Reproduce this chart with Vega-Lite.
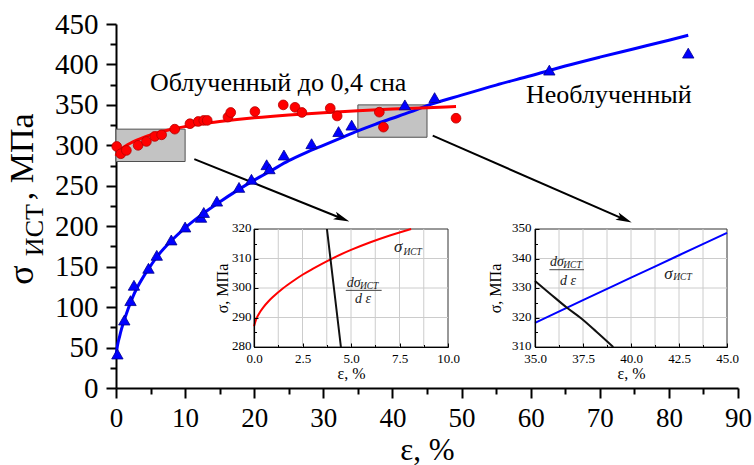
{
"$schema":"https://vega.github.io/schema/vega-lite/v6.json",
"width":622,"height":364,
"autosize":{"type":"none"},
"padding":{"left":116,"top":24,"right":16,"bottom":77},
"background":"white",
"config":{
 "view":{"stroke":null},
 "font":"Times New Roman",
 "axis":{"labelFont":"Times New Roman","titleFont":"Times New Roman","titleFontWeight":"normal","labelColor":"black","titleColor":"black","domainColor":"black","tickColor":"black","grid":false,"labelFlush":false,"labelOverlap":false,"labelBound":false},
 "text":{"font":"Times New Roman","color":"black"}
},
"datasets":{
 "blueCurve":[{"x":0,"y":40},{"x":0.25,"y":54},{"x":0.5,"y":63},{"x":0.8,"y":73},{"x":1.2,"y":84},{"x":1.8,"y":99},{"x":2.5,"y":114},{"x":3,"y":123},{"x":4,"y":138},{"x":5,"y":151},{"x":6,"y":163},{"x":7,"y":173},{"x":8,"y":182},{"x":10,"y":198},{"x":12.5,"y":215},{"x":15,"y":230},{"x":17.5,"y":244},{"x":20,"y":257},{"x":22.5,"y":269},{"x":25,"y":281},{"x":27.5,"y":291},{"x":30,"y":300},{"x":32.5,"y":309},{"x":35,"y":318},{"x":37.5,"y":326},{"x":40,"y":333.5},{"x":42.5,"y":341},{"x":45,"y":349},{"x":50,"y":362},{"x":55,"y":374.5},{"x":60,"y":386},{"x":65,"y":398},{"x":70,"y":409},{"x":75,"y":419.5},{"x":80,"y":430},{"x":82.8,"y":436}],
 "redCurve":[{"x":0,"y":287},{"x":0.25,"y":291.2},{"x":0.5,"y":293.6},{"x":1,"y":297.1},{"x":1.5,"y":299.9},{"x":2,"y":302.3},{"x":3,"y":306.4},{"x":4,"y":309.9},{"x":5,"y":312.9},{"x":6,"y":315.5},{"x":7,"y":317.8},{"x":8.2,"y":320.2},{"x":10,"y":323.2},{"x":12.5,"y":326.8},{"x":15,"y":329.6},{"x":17.5,"y":332},{"x":20,"y":334.1},{"x":25,"y":337.6},{"x":30,"y":340.4},{"x":35,"y":342.8},{"x":40,"y":344.8},{"x":45,"y":346.6},{"x":49.2,"y":348}],
 "bluePts":[{"x":0.2,"y":42},{"x":1.2,"y":84},{"x":2.1,"y":108},{"x":2.6,"y":127},{"x":4.7,"y":148},{"x":5.9,"y":164},{"x":8.0,"y":183},{"x":10.0,"y":199},{"x":12.3,"y":211},{"x":12.7,"y":217},{"x":14.6,"y":231},{"x":17.8,"y":248},{"x":19.6,"y":258},{"x":21.8,"y":276},{"x":22.2,"y":271},{"x":24.3,"y":288},{"x":28.3,"y":302},{"x":32.2,"y":317},{"x":34.1,"y":325},{"x":41.8,"y":350},{"x":46.1,"y":359},{"x":62.7,"y":393},{"x":82.8,"y":414}],
 "redPts":[{"x":0.1,"y":298.6},{"x":0.7,"y":289.6},{"x":1.5,"y":293.7},{"x":3.2,"y":300},{"x":4.4,"y":304.8},{"x":5.6,"y":311},{"x":6.6,"y":313},{"x":8.5,"y":320},{"x":10.7,"y":326.7},{"x":11.9,"y":329.5},{"x":12.7,"y":330.8},{"x":13.2,"y":330.8},{"x":16.2,"y":334.9},{"x":16.6,"y":340.6},{"x":20.1,"y":341.8},{"x":24.2,"y":350},{"x":25.9,"y":347},{"x":26.9,"y":340.6},{"x":31.0,"y":345.8},{"x":32.0,"y":336.3},{"x":38.1,"y":341},{"x":38.7,"y":322.5},{"x":49.2,"y":333.5}],
 "boxes":[{"x":0,"x2":10,"y":280,"y2":320},{"x":35,"x2":45,"y":310,"y2":350}],
 "arrows":[{"x":11.33,"y":283.0,"x2":32.69,"y2":209.5},{"x":45.83,"y":311.9,"x2":73.56,"y2":208.5}],
 "labels":[{"x":4.92,"y":367.5,"t":"Облученный до 0,4 сна"},{"x":59.33,"y":352.7,"t":"Необлученный"}],
 "i1red":[{"x":0,"y":287},{"x":0.1,"y":289.2},{"x":0.25,"y":291.2},{"x":0.5,"y":293.6},{"x":0.75,"y":295.5},{"x":1,"y":297.1},{"x":1.5,"y":299.9},{"x":2,"y":302.3},{"x":2.5,"y":304.5},{"x":3,"y":306.4},{"x":3.5,"y":308.2},{"x":4,"y":309.9},{"x":5,"y":312.9},{"x":6,"y":315.5},{"x":7,"y":317.8},{"x":8.1,"y":320}],
 "i1black":[{"x":3.76,"y":320},{"x":4.12,"y":300},{"x":4.48,"y":280}],
 "i2blue":[{"x":35,"y":318.2},{"x":37.5,"y":325.9},{"x":40,"y":333.5},{"x":42.5,"y":341.1},{"x":45,"y":348.7}],
 "i2black":[{"x":35,"y":332.4},{"x":35.8,"y":328},{"x":36.65,"y":323.4},{"x":37.43,"y":319.6},{"x":38.2,"y":315.2},{"x":39.08,"y":310}]
},
"layer":[
  {"data":{"name":"boxes"},"mark":{"type":"rect","fill":"#c3c3c3","stroke":"#505050","strokeWidth":1},
   "encoding":{
    "x":{"field":"x","type":"quantitative","scale":{"domain":[0,90],"nice":false,"zero":false},
         "axis":{"orient":"bottom","values":[0,10,20,30,40,50,60,70,80,90],"labelFontSize":27,"labelPadding":7,"tickSize":10,"tickWidth":2,"domainWidth":2,"title":"ε, %","titleFontSize":31,"titleBaseline":"alphabetic","titleY":71}},
    "x2":{"field":"x2"},
    "y":{"field":"y","type":"quantitative","scale":{"domain":[0,450],"nice":false,"zero":false},
         "axis":{"orient":"left","values":[0,50,100,150,200,250,300,350,400,450],"labelFontSize":29,"labelPadding":8,"tickSize":10,"tickWidth":2,"domainWidth":2,"title":null}},
    "y2":{"field":"y2"}}},
  {"data":{"values":[{"x":0,"y":0}]},"mark":{"type":"point","opacity":0},
   "encoding":{
    "x":{"field":"x","type":"quantitative","scale":{"domain":[0,90],"nice":false,"zero":false},
         "axis":{"orient":"bottom","values":[5,15,25,35,45,55,65,75,85],"labels":false,"domain":false,"tickSize":6,"tickWidth":2,"title":null}},
    "y":{"field":"y","type":"quantitative","scale":{"domain":[0,450],"nice":false,"zero":false},
         "axis":{"orient":"left","values":[25,75,125,175,225,275,325,375,425],"labels":false,"domain":false,"tickSize":6,"tickWidth":2,"title":null}}}},
  {"data":{"name":"blueCurve"},"mark":{"type":"line","color":"#0000ff","strokeWidth":3,"interpolate":"monotone"},
   "encoding":{"x":{"field":"x","type":"quantitative","scale":{"domain":[0,90],"nice":false,"zero":false},"axis":null},
               "y":{"field":"y","type":"quantitative","scale":{"domain":[0,450],"nice":false,"zero":false},"axis":null}}},
  {"data":{"name":"redCurve"},"mark":{"type":"line","color":"#ff0000","strokeWidth":3,"interpolate":"monotone"},
   "encoding":{"x":{"field":"x","type":"quantitative","scale":{"domain":[0,90],"nice":false,"zero":false},"axis":null},
               "y":{"field":"y","type":"quantitative","scale":{"domain":[0,450],"nice":false,"zero":false},"axis":null}}},
  {"data":{"name":"arrows"},"mark":{"type":"rule","color":"black","strokeWidth":2},
   "encoding":{"x":{"field":"x","type":"quantitative","scale":{"domain":[0,90],"nice":false,"zero":false},"axis":null},"x2":{"field":"x2"},
               "y":{"field":"y","type":"quantitative","scale":{"domain":[0,450],"nice":false,"zero":false},"axis":null},"y2":{"field":"y2"}}},
  {"data":{"values":[{"x":32.69,"y":209.5}]},"mark":{"type":"point","shape":"M1,0L-1,-0.5L-0.55,0L-1,0.5Z","size":256,"angle":21.9,"filled":true,"color":"black","opacity":1},
   "encoding":{"x":{"field":"x","type":"quantitative","scale":{"domain":[0,90],"nice":false,"zero":false},"axis":null},
               "y":{"field":"y","type":"quantitative","scale":{"domain":[0,450],"nice":false,"zero":false},"axis":null}}},
  {"data":{"values":[{"x":73.56,"y":208.5}]},"mark":{"type":"point","shape":"M1,0L-1,-0.5L-0.55,0L-1,0.5Z","size":256,"angle":23.5,"filled":true,"color":"black","opacity":1},
   "encoding":{"x":{"field":"x","type":"quantitative","scale":{"domain":[0,90],"nice":false,"zero":false},"axis":null},
               "y":{"field":"y","type":"quantitative","scale":{"domain":[0,450],"nice":false,"zero":false},"axis":null}}},
  {"data":{"name":"bluePts"},"mark":{"type":"point","shape":"triangle-up","size":130,"filled":true,"fill":"#0000ff","stroke":"#00008b","strokeWidth":0.8,"opacity":1},
   "encoding":{"x":{"field":"x","type":"quantitative","scale":{"domain":[0,90],"nice":false,"zero":false},"axis":null},
               "y":{"field":"y","type":"quantitative","scale":{"domain":[0,450],"nice":false,"zero":false},"axis":null}}},
  {"data":{"name":"redPts"},"mark":{"type":"point","shape":"circle","size":95,"filled":true,"fill":"#ff0000","stroke":"#b40000","strokeWidth":0.8,"opacity":1},
   "encoding":{"x":{"field":"x","type":"quantitative","scale":{"domain":[0,90],"nice":false,"zero":false},"axis":null},
               "y":{"field":"y","type":"quantitative","scale":{"domain":[0,450],"nice":false,"zero":false},"axis":null}}},
  {"data":{"name":"labels"},"mark":{"type":"text","align":"left","baseline":"alphabetic","fontSize":26,"color":"black"},
   "encoding":{"x":{"field":"x","type":"quantitative","scale":{"domain":[0,90],"nice":false,"zero":false},"axis":null},
               "y":{"field":"y","type":"quantitative","scale":{"domain":[0,450],"nice":false,"zero":false},"axis":null},
               "text":{"field":"t"}}},
  {"data":{"values":[{"x":-12.0,"y":127.5,"t":"σ"}]},"mark":{"type":"text","angle":270,"align":"left","baseline":"alphabetic","fontSize":36,"color":"black"},
   "encoding":{"x":{"field":"x","type":"quantitative","scale":{"domain":[0,90],"nice":false,"zero":false},"axis":null},
               "y":{"field":"y","type":"quantitative","scale":{"domain":[0,450],"nice":false,"zero":false},"axis":null},
               "text":{"field":"t"}}},
  {"data":{"values":[{"x":-10.56,"y":163,"t":"ИСТ"}]},"mark":{"type":"text","angle":270,"align":"left","baseline":"alphabetic","fontSize":26,"color":"black"},
   "encoding":{"x":{"field":"x","type":"quantitative","scale":{"domain":[0,90],"nice":false,"zero":false},"axis":null},
               "y":{"field":"y","type":"quantitative","scale":{"domain":[0,450],"nice":false,"zero":false},"axis":null},
               "text":{"field":"t"}}},
  {"data":{"values":[{"x":-12.0,"y":232,"t":", МПа"}]},"mark":{"type":"text","angle":270,"align":"left","baseline":"alphabetic","fontSize":34,"color":"black"},
   "encoding":{"x":{"field":"x","type":"quantitative","scale":{"domain":[0,90],"nice":false,"zero":false},"axis":null},
               "y":{"field":"y","type":"quantitative","scale":{"domain":[0,450],"nice":false,"zero":false},"axis":null},
               "text":{"field":"t"}}},

  {"data":{"values":[{"x":0,"x2":10,"y":280,"y2":320}]},"mark":{"type":"rect","fill":"white","stroke":"#333333","strokeWidth":1},
   "encoding":{
    "x":{"field":"x","type":"quantitative","scale":{"domain":[0,10],"range":[138,332],"nice":false,"zero":false},
         "axis":{"orient":"bottom","offset":-41,"values":[0,2.5,5,7.5,10],"format":".1f","labelFontSize":13,"labelPadding":9,"tickSize":-4,"tickWidth":1,"domainWidth":1.2,"title":"ε, %","titleFontSize":16,"titleBaseline":"alphabetic","titleY":31.5,"zindex":1}},
    "x2":{"field":"x2"},
    "y":{"field":"y","type":"quantitative","scale":{"domain":[280,320],"range":[323,205],"nice":false,"zero":false},
         "axis":{"orient":"left","offset":-138,"values":[280,290,300,310,320],"labelFontSize":13,"labelPadding":7,"labelOffset":-1.5,"tickSize":-4,"tickWidth":1,"domainWidth":1.2,"title":"σ, МПа","titleFontSize":16,"titleBaseline":"alphabetic","titleX":-27,"zindex":1}},
    "y2":{"field":"y2"}}},
  {"data":{"values":[{"x":0,"y":280}]},"mark":{"type":"point","opacity":0},
   "encoding":{
    "x":{"field":"x","type":"quantitative","scale":{"domain":[0,10],"range":[138,332],"nice":false,"zero":false},
         "axis":{"orient":"bottom","offset":-41,"values":[1.25,3.75,6.25,8.75],"labels":false,"domain":false,"tickSize":-2.5,"tickWidth":1,"title":null,"zindex":1}},
    "y":{"field":"y","type":"quantitative","scale":{"domain":[280,320],"range":[323,205],"nice":false,"zero":false},
         "axis":{"orient":"left","offset":-138,"values":[285,295,305,315],"labels":false,"domain":false,"tickSize":-2.5,"tickWidth":1,"title":null,"zindex":1}}}},
  {"data":{"values":[{"x":1.25},{"x":2.5},{"x":3.75},{"x":5},{"x":6.25},{"x":7.5},{"x":8.75}]},"mark":{"type":"rule","color":"#cccccc","strokeWidth":1},
   "encoding":{"x":{"field":"x","type":"quantitative","scale":{"domain":[0,10],"range":[138,332],"nice":false,"zero":false},"axis":null},
               "y":{"datum":280,"type":"quantitative","scale":{"domain":[280,320],"range":[323,205],"nice":false,"zero":false},"axis":null},"y2":{"datum":320}}},
  {"data":{"values":[{"y":290},{"y":300},{"y":310}]},"mark":{"type":"rule","color":"#cccccc","strokeWidth":1},
   "encoding":{"y":{"field":"y","type":"quantitative","scale":{"domain":[280,320],"range":[323,205],"nice":false,"zero":false},"axis":null},
               "x":{"datum":0,"type":"quantitative","scale":{"domain":[0,10],"range":[138,332],"nice":false,"zero":false},"axis":null},"x2":{"datum":10}}},
  {"data":{"name":"i1red"},"mark":{"type":"line","color":"#ff0000","strokeWidth":2,"interpolate":"monotone"},
   "encoding":{"x":{"field":"x","type":"quantitative","scale":{"domain":[0,10],"range":[138,332],"nice":false,"zero":false},"axis":null},
               "y":{"field":"y","type":"quantitative","scale":{"domain":[280,320],"range":[323,205],"nice":false,"zero":false},"axis":null}}},
  {"data":{"name":"i1black"},"mark":{"type":"line","color":"#111111","strokeWidth":2,"interpolate":"monotone"},
   "encoding":{"x":{"field":"x","type":"quantitative","scale":{"domain":[0,10],"range":[138,332],"nice":false,"zero":false},"axis":null},
               "y":{"field":"y","type":"quantitative","scale":{"domain":[280,320],"range":[323,205],"nice":false,"zero":false},"axis":null}}},
  {"data":{"values":[{"x":4.73,"x2":6.58,"y":299.2}]},"mark":{"type":"rule","color":"#444444","strokeWidth":1},
   "encoding":{"x":{"field":"x","type":"quantitative","scale":{"domain":[0,10],"range":[138,332],"nice":false,"zero":false},"axis":null},"x2":{"field":"x2"},
               "y":{"field":"y","type":"quantitative","scale":{"domain":[280,320],"range":[323,205],"nice":false,"zero":false},"axis":null}}},
  {"data":{"values":[{"x":7.22,"y":312.2,"t":"σ"}]},"mark":{"type":"text","align":"left","baseline":"alphabetic","fontSize":17,"fontStyle":"italic","color":"#222222"},
   "encoding":{"x":{"field":"x","type":"quantitative","scale":{"domain":[0,10],"range":[138,332],"nice":false,"zero":false},"axis":null},
               "y":{"field":"y","type":"quantitative","scale":{"domain":[280,320],"range":[323,205],"nice":false,"zero":false},"axis":null},"text":{"field":"t"}}},
  {"data":{"values":[{"x":4.78,"y":300.3,"t":"dσ"},{"x":5.21,"y":294.9,"t":"d ε"}]},"mark":{"type":"text","align":"left","baseline":"alphabetic","fontSize":14,"fontStyle":"italic","color":"#222222"},
   "encoding":{"x":{"field":"x","type":"quantitative","scale":{"domain":[0,10],"range":[138,332],"nice":false,"zero":false},"axis":null},
               "y":{"field":"y","type":"quantitative","scale":{"domain":[280,320],"range":[323,205],"nice":false,"zero":false},"axis":null},"text":{"field":"t"}}},
  {"data":{"values":[{"x":7.70,"y":311.2,"t":"ИСТ"},{"x":5.46,"y":299.8,"t":"ИСТ"}]},"mark":{"type":"text","align":"left","baseline":"alphabetic","fontSize":9.5,"fontStyle":"italic","color":"#222222"},
   "encoding":{"x":{"field":"x","type":"quantitative","scale":{"domain":[0,10],"range":[138,332],"nice":false,"zero":false},"axis":null},
               "y":{"field":"y","type":"quantitative","scale":{"domain":[280,320],"range":[323,205],"nice":false,"zero":false},"axis":null},"text":{"field":"t"}}},

  {"data":{"values":[{"x":35,"x2":45,"y":310,"y2":350}]},"mark":{"type":"rect","fill":"white","stroke":"#333333","strokeWidth":1},
   "encoding":{
    "x":{"field":"x","type":"quantitative","scale":{"domain":[35,45],"range":[419,611],"nice":false,"zero":false},
         "axis":{"orient":"bottom","offset":-41,"values":[35,37.5,40,42.5,45],"format":".1f","labelFontSize":13,"labelPadding":9,"tickSize":-4,"tickWidth":1,"domainWidth":1.2,"title":"ε, %","titleFontSize":16,"titleBaseline":"alphabetic","titleY":31.5,"zindex":1}},
    "x2":{"field":"x2"},
    "y":{"field":"y","type":"quantitative","scale":{"domain":[310,350],"range":[323,205],"nice":false,"zero":false},
         "axis":{"orient":"left","offset":-419,"values":[310,320,330,340,350],"labelFontSize":13,"labelPadding":8,"labelOffset":-1.5,"tickSize":-4,"tickWidth":1,"domainWidth":1.2,"title":"σ, МПа","titleFontSize":16,"titleBaseline":"alphabetic","titleX":-35,"zindex":1}},
    "y2":{"field":"y2"}}},
  {"data":{"values":[{"x":35,"y":310}]},"mark":{"type":"point","opacity":0},
   "encoding":{
    "x":{"field":"x","type":"quantitative","scale":{"domain":[35,45],"range":[419,611],"nice":false,"zero":false},
         "axis":{"orient":"bottom","offset":-41,"values":[36.25,38.75,41.25,43.75],"labels":false,"domain":false,"tickSize":-2.5,"tickWidth":1,"title":null,"zindex":1}},
    "y":{"field":"y","type":"quantitative","scale":{"domain":[310,350],"range":[323,205],"nice":false,"zero":false},
         "axis":{"orient":"left","offset":-419,"values":[315,325,335,345],"labels":false,"domain":false,"tickSize":-2.5,"tickWidth":1,"title":null,"zindex":1}}}},
  {"data":{"values":[{"x":36.25},{"x":37.5},{"x":38.75},{"x":40},{"x":41.25},{"x":42.5},{"x":43.75}]},"mark":{"type":"rule","color":"#cccccc","strokeWidth":1},
   "encoding":{"x":{"field":"x","type":"quantitative","scale":{"domain":[35,45],"range":[419,611],"nice":false,"zero":false},"axis":null},
               "y":{"datum":310,"type":"quantitative","scale":{"domain":[310,350],"range":[323,205],"nice":false,"zero":false},"axis":null},"y2":{"datum":350}}},
  {"data":{"values":[{"y":320},{"y":330},{"y":340}]},"mark":{"type":"rule","color":"#cccccc","strokeWidth":1},
   "encoding":{"y":{"field":"y","type":"quantitative","scale":{"domain":[310,350],"range":[323,205],"nice":false,"zero":false},"axis":null},
               "x":{"datum":35,"type":"quantitative","scale":{"domain":[35,45],"range":[419,611],"nice":false,"zero":false},"axis":null},"x2":{"datum":45}}},
  {"data":{"name":"i2blue"},"mark":{"type":"line","color":"#0000ff","strokeWidth":2,"interpolate":"monotone"},
   "encoding":{"x":{"field":"x","type":"quantitative","scale":{"domain":[35,45],"range":[419,611],"nice":false,"zero":false},"axis":null},
               "y":{"field":"y","type":"quantitative","scale":{"domain":[310,350],"range":[323,205],"nice":false,"zero":false},"axis":null}}},
  {"data":{"name":"i2black"},"mark":{"type":"line","color":"#111111","strokeWidth":2,"interpolate":"monotone"},
   "encoding":{"x":{"field":"x","type":"quantitative","scale":{"domain":[35,45],"range":[419,611],"nice":false,"zero":false},"axis":null},
               "y":{"field":"y","type":"quantitative","scale":{"domain":[310,350],"range":[323,205],"nice":false,"zero":false},"axis":null}}},
  {"data":{"values":[{"x":35.75,"x2":37.55,"y":336.2}]},"mark":{"type":"rule","color":"#444444","strokeWidth":1},
   "encoding":{"x":{"field":"x","type":"quantitative","scale":{"domain":[35,45],"range":[419,611],"nice":false,"zero":false},"axis":null},"x2":{"field":"x2"},
               "y":{"field":"y","type":"quantitative","scale":{"domain":[310,350],"range":[323,205],"nice":false,"zero":false},"axis":null}}},
  {"data":{"values":[{"x":41.73,"y":333.2,"t":"σ"}]},"mark":{"type":"text","align":"left","baseline":"alphabetic","fontSize":17,"fontStyle":"italic","color":"#222222"},
   "encoding":{"x":{"field":"x","type":"quantitative","scale":{"domain":[35,45],"range":[419,611],"nice":false,"zero":false},"axis":null},
               "y":{"field":"y","type":"quantitative","scale":{"domain":[310,350],"range":[323,205],"nice":false,"zero":false},"axis":null},"text":{"field":"t"}}},
  {"data":{"values":[{"x":35.78,"y":337.5,"t":"dσ"},{"x":36.3,"y":331.0,"t":"d ε"}]},"mark":{"type":"text","align":"left","baseline":"alphabetic","fontSize":14,"fontStyle":"italic","color":"#222222"},
   "encoding":{"x":{"field":"x","type":"quantitative","scale":{"domain":[35,45],"range":[419,611],"nice":false,"zero":false},"axis":null},
               "y":{"field":"y","type":"quantitative","scale":{"domain":[310,350],"range":[323,205],"nice":false,"zero":false},"axis":null},"text":{"field":"t"}}},
  {"data":{"values":[{"x":42.2,"y":332.6,"t":"ИСТ"},{"x":36.47,"y":336.8,"t":"ИСТ"}]},"mark":{"type":"text","align":"left","baseline":"alphabetic","fontSize":9.5,"fontStyle":"italic","color":"#222222"},
   "encoding":{"x":{"field":"x","type":"quantitative","scale":{"domain":[35,45],"range":[419,611],"nice":false,"zero":false},"axis":null},
               "y":{"field":"y","type":"quantitative","scale":{"domain":[310,350],"range":[323,205],"nice":false,"zero":false},"axis":null},"text":{"field":"t"}}}
],
"resolve":{"scale":{"x":"independent","y":"independent"}}
}
